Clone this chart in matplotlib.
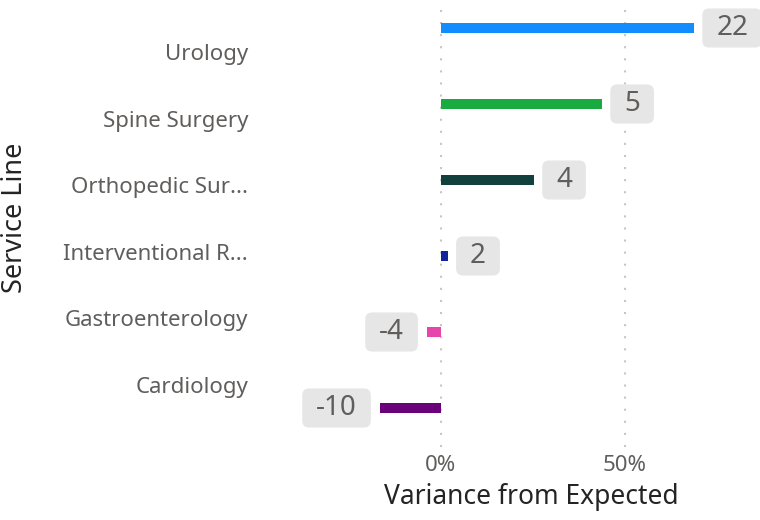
import matplotlib.pyplot as plt
from matplotlib.patches import BoxStyle

# --- данные
service_lines = ["Urology", "Spine Surgery", "Orthopedic Sur...",
                 "Interventional R...", "Gastroenterology", "Cardiology"]
variance_pct = [68.8, 43.8, 25.3, 1.9, -3.8, -16.6]
data_labels = ["22", "5", "4", "2", "-4", "-10"]
bar_colors = ["#118DFF", "#1AAB40", "#12403C", "#12239E", "#E645AB", "#6B007B"]

FONT = "Noto Sans"
plt.rcParams["font.family"] = [FONT, "DejaVu Sans"]

W, H = 760, 520
AX_L, AX_R, AX_T, AX_B = 255, 760, 0, 447   # пиксели
ZERO_PX, PX_PER_PCT = 441, 3.68


def label_box(x0, y0, width, height, mutation_size):
    # скруглённая плашка с разными отступами по x и y
    padx, pady = 0.5 * mutation_size, 0.2 * mutation_size
    return BoxStyle.Round(pad=0, rounding_size=0.25)(
        x0 - padx, y0 - pady, width + 2 * padx, height + 2 * pady, mutation_size)


fig = plt.figure(figsize=(W / 100, H / 100), dpi=100)
ax = fig.add_axes([AX_L / W, (H - AX_B) / H, (AX_R - AX_L) / W, (AX_B - AX_T) / H])

bar_pos = list(range(len(service_lines)))
ax.barh(bar_pos, variance_pct, height=0.13, color=bar_colors, zorder=3)

# подписи значений
for y, v, lbl in zip(bar_pos, variance_pct, data_labels):
    off = 22 if v >= 0 else -23
    ax.annotate(lbl, xy=(v, y), xytext=(off, 0), textcoords="offset pixels",
                ha="left" if v >= 0 else "right", va="center",
                fontsize=20, color="#605E5C", zorder=4,
                bbox=dict(boxstyle=label_box, fc="#E6E6E6", ec="none"))

ax.set_xlim(-(ZERO_PX - AX_L) / PX_PER_PCT, (AX_R - ZERO_PX) / PX_PER_PCT)
ax.set_ylim((AX_B - 28) / 76, -28 / 76)

ax.set_xticks([0, 50])
ax.set_xticklabels(["0%", "50%"])
label_pos = [(24 + 66.6 * i) / 76 for i in bar_pos]
ax.set_yticks(label_pos)
ax.set_yticklabels(service_lines)

ax.tick_params(axis="both", length=0, labelsize=16, labelcolor="#605E5C")
ax.tick_params(axis="y", pad=5)
ax.tick_params(axis="x", pad=6)
for s in ax.spines.values():
    s.set_visible(False)
ax.grid(axis="x", color="#C8C6C4", linewidth=1.5, linestyle=(0, (1, 4.8)), zorder=0)
ax.grid(axis="y", visible=False)

ax.set_xlabel("Variance from Expected", fontsize=19, color="#252423")
ax.set_ylabel("Service Line", fontsize=19.5, color="#252423")
ax.xaxis.set_label_coords((531 - AX_L) / (AX_R - AX_L), (AX_B - 483) / (AX_B - AX_T))
ax.yaxis.set_label_coords((29 - AX_L) / (AX_R - AX_L), (AX_B - 218) / (AX_B - AX_T))

fig.savefig("out.png", dpi=100)
